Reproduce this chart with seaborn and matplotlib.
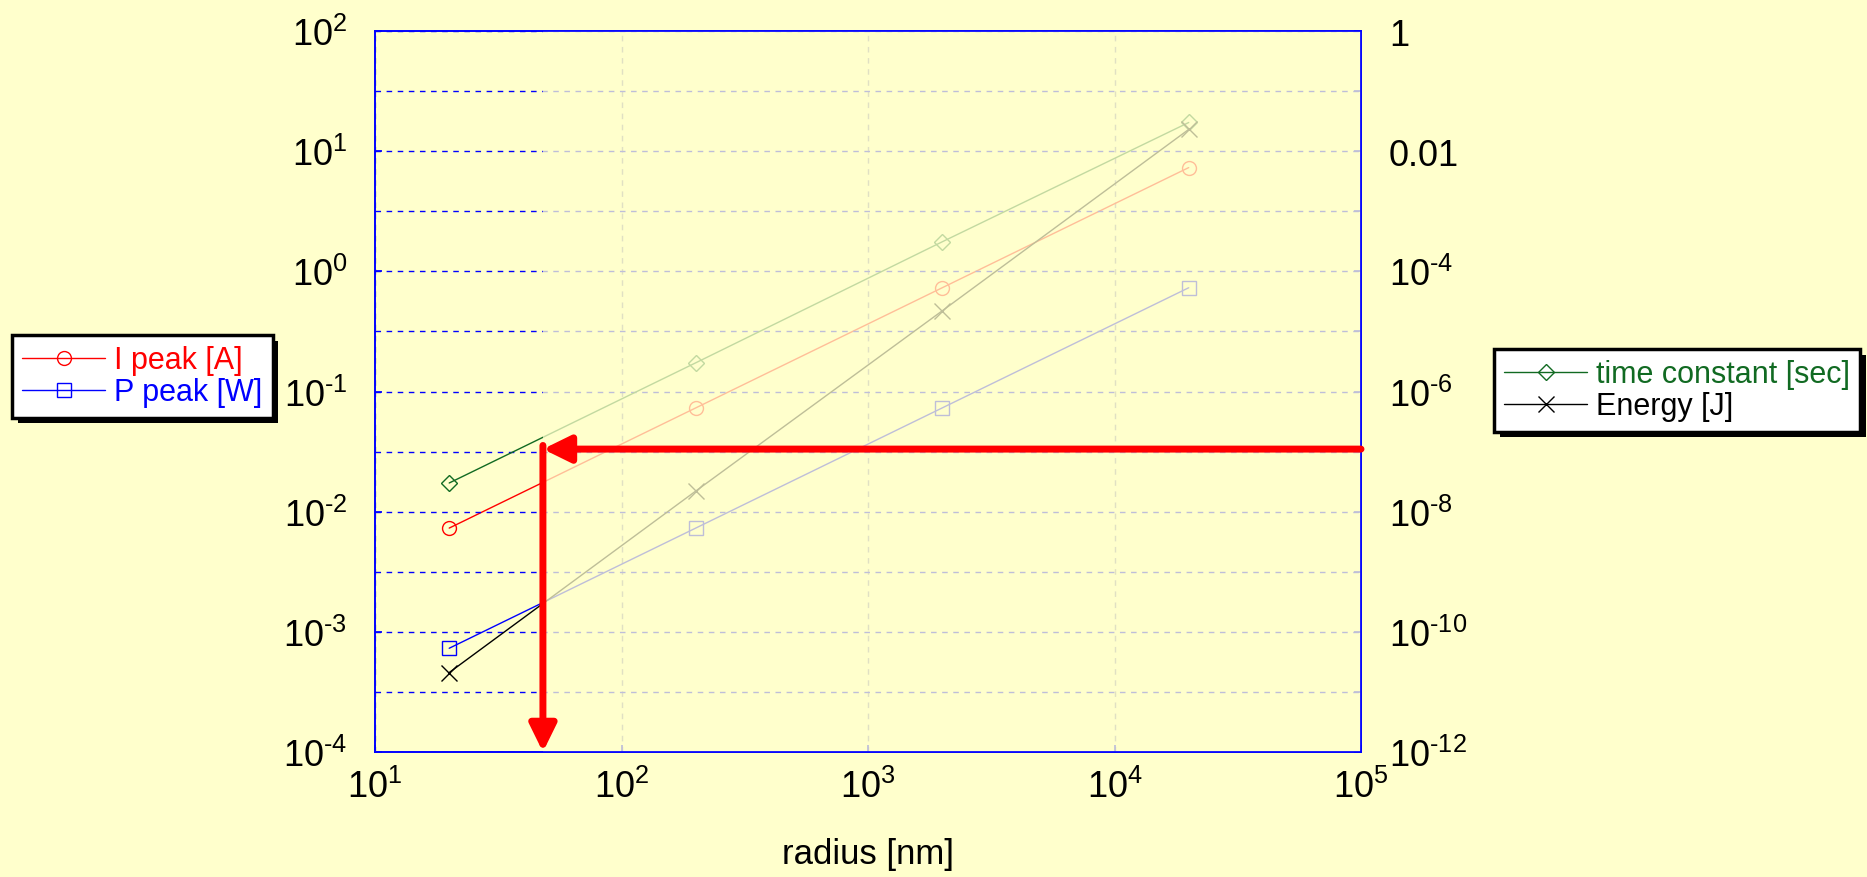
import numpy as np
import pandas as pd
import seaborn as sns
import matplotlib.pyplot as plt
from matplotlib import patheffects
from matplotlib.lines import Line2D
from matplotlib.patches import Rectangle
from matplotlib.ticker import LogLocator, NullLocator, FuncFormatter


#
# data
#

radius      = [20, 200, 2000, 20000]            # nm
i_peak      = [7.3e-3, 7.3e-2, 0.73, 7.3]       # A   (left axis)
p_peak      = [7.3e-4, 7.3e-3, 7.3e-2, 0.73]    # W   (left axis)
time_const  = [3.0e-8, 3.0e-6, 3.1e-4, 3.0e-2]  # sec (right axis)
energy      = [2.1e-11, 2.2e-8, 2.2e-5, 2.3e-2] # J   (right axis)

arrow_radius = 48
arrow_level  = 1.1e-7   # on the right axis

x_lim   = (1e1, 1e5)
yl_lim  = (1e-4, 1e2)
yr_lim  = (1e-12, 1)

#
# style
#

bg     = "#FFFFCC"
blue   = "#0000FF"
red    = "#FF0000"
green  = "#116A22"
font   = "Liberation Sans"

sns.set_theme(style="ticks")
plt.rcParams["font.family"] = [font, "DejaVu Sans"]
plt.rcParams["mathtext.fontset"] = "custom"
plt.rcParams["mathtext.rm"] = font
plt.rcParams["mathtext.it"] = font
plt.rcParams["mathtext.default"] = "regular"
plt.rcParams["axes.unicode_minus"] = False
plt.rcParams["text.color"] = "black"
plt.rcParams["xtick.labelcolor"] = "black"
plt.rcParams["ytick.labelcolor"] = "black"

left_df  = pd.DataFrame({"radius": radius, "I": i_peak, "P": p_peak})
right_df = pd.DataFrame({"radius": radius, "tau": time_const, "E": energy})

W, H = 1867, 878
fig = plt.figure(figsize=(W / 100, H / 100), dpi=100, facecolor=bg)
ax = fig.add_axes([375 / W, 1 - 753 / H, 986 / W, 721 / H])
ax.set_facecolor(bg)
ax2 = ax.twinx()

series = [
    (ax,  left_df,  "I",   red,     "o", 10),
    (ax,  left_df,  "P",   blue,    "s", 10),
    (ax2, right_df, "tau", green,   "D", 8),
    (ax2, right_df, "E",   "black", "x", 11),
]
for a, df, col, c, m, ms in series:
    sns.lineplot(data=df, x="radius", y=col, ax=a, color=c, marker=m, markersize=ms,
                 markerfacecolor="none", markeredgecolor=c, markeredgewidth=1, linewidth=1)

for a in (ax, ax2):
    a.set_xscale("log")
    a.set_yscale("log")
    a.set_xlim(*x_lim)
    a.set_xlabel("")
    a.set_ylabel("")
ax.set_ylim(*yl_lim)
ax2.set_ylim(*yr_lim)


def pow_label(e):
    if e < 0:
        return r"$10^{\text{-}%d}$" % (-e)
    return r"$10^{%d}$" % e


def left_fmt(v, pos):
    return pow_label(int(round(np.log10(v))))


def right_fmt(v, pos):
    e = int(round(np.log10(v)))
    if e % 2:
        return ""
    if e == 0:
        return "1"
    if e == -2:
        return "0.01"
    return pow_label(e)


# ticks
ax.xaxis.set_major_locator(LogLocator(base=10, numticks=10))
ax.xaxis.set_minor_locator(NullLocator())
ax.yaxis.set_major_locator(LogLocator(base=10, numticks=10))
ax.yaxis.set_minor_locator(NullLocator())
ax.xaxis.set_major_formatter(FuncFormatter(left_fmt))
ax.yaxis.set_major_formatter(FuncFormatter(left_fmt))
ax2.yaxis.set_major_locator(LogLocator(base=10, numticks=20))
ax2.yaxis.set_minor_locator(NullLocator())
ax2.yaxis.set_major_formatter(FuncFormatter(right_fmt))

ax.tick_params(axis="y", which="major", direction="in", length=5, color=blue, labelsize=26, pad=20)
ax.tick_params(axis="x", which="major", direction="in", length=5, color=blue, labelsize=26, pad=12)
ax2.tick_params(axis="y", which="major", direction="in", length=5, color=blue, labelsize=26, pad=20)

# grid
ax.grid(axis="x", color="#8888AA", linestyle=(0, (4, 4)), linewidth=1)
ax2.grid(axis="y", color=blue, linestyle=(0, (4, 4)), linewidth=1)
ax2.set_axisbelow(True)

for a in (ax, ax2):
    for s in a.spines.values():
        s.set_color(blue)
        s.set_linewidth(1.2)
        s.set_zorder(5)

# faded region right of the marked radius
ax2.add_patch(Rectangle((arrow_radius, yr_lim[0]), x_lim[1] - arrow_radius, yr_lim[1] - yr_lim[0],
                        facecolor=bg, edgecolor="none", alpha=0.75, zorder=3))

# red arrows
arrow_kw = dict(arrowstyle="-|>,head_length=0.55,head_width=0.27", mutation_scale=30,
                lw=5, color=red, shrinkA=0, shrinkB=0)
ax2.annotate("", xy=(arrow_radius, arrow_level), xytext=(x_lim[1], arrow_level),
             arrowprops=arrow_kw, zorder=6)
ax2.annotate("", xy=(arrow_radius, yr_lim[0]), xytext=(arrow_radius, arrow_level * 1.15),
             arrowprops=arrow_kw, zorder=6)

fig.text(868 / W, 1 - 855 / H, "radius [nm]", fontsize=25, ha="center", va="center")


# legends
def handle(color, marker, ms, label):
    return Line2D([], [], color=color, marker=marker, markersize=ms, markerfacecolor="none",
                  markeredgecolor=color, linewidth=1, label=label)


leg_kw = dict(loc="upper left", borderaxespad=0, fontsize=22, frameon=True, fancybox=False,
              framealpha=1, facecolor="white", edgecolor="black", numpoints=1,
              handlelength=2.7, handletextpad=0.3, labelcolor="linecolor",
              borderpad=0.34, labelspacing=0.06)
leg1 = fig.legend(handles=[handle(red, "o", 10, "I peak [A]"), handle(blue, "s", 10, "P peak [W]")],
                  bbox_to_anchor=(12 / W, 1 - 336 / H), **leg_kw)
leg2 = fig.legend(handles=[handle(green, "D", 8, "time constant [sec]"), handle("black", "x", 11, "Energy [J]")],
                  bbox_to_anchor=(1494 / W, 1 - 350 / H), **leg_kw)
for lg in (leg1, leg2):
    fr = lg.get_frame()
    fr.set_linewidth(2.5)
    fr.set_path_effects([patheffects.SimplePatchShadow(offset=(4, -4), shadow_rgbFace="black", alpha=1),
                         patheffects.Normal()])

fig.savefig("out.png", dpi=100, facecolor=bg)
